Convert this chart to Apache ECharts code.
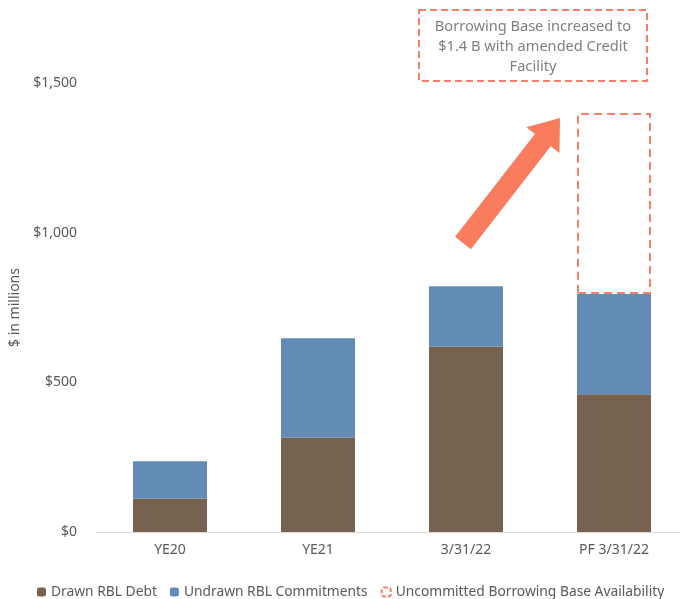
<!DOCTYPE html>
<html>
<head>
<meta charset="utf-8">
<script src="https://cdn.jsdelivr.net/npm/echarts@6/dist/echarts.min.js"></script>
<style>
  html, body { margin: 0; padding: 0; background: #fff; }
  #chart { width: 680px; height: 599px; }
</style>
</head>
<body>
<div id="chart"></div>
<script>
// data
const categories = ["YE20", "YE21", "3/31/22", "PF 3/31/22"]
const drawnDebt = [112, 316, 620, 460]
const undrawnCommitments = [124, 331, 201, 335]
const uncommittedBase = ["-", "-", "-", 605]
const yTicks = [0, 500, 1000, 1500]

const brown = "#77614f"
const blue = "#628cb6"
const coral = "#fa7c5f"
const dashColor = "#f4806a"
const textGrey = "#595959"
const font = "Noto Sans"

const chart = echarts.init(document.getElementById("chart"))

// arrow shape (annotation only)
const tail = [463, 243]
const tip = [560, 118]
const dx = tip[0] - tail[0], dy = tip[1] - tail[1]
const len = Math.sqrt(dx * dx + dy * dy)
const ux = dx / len, uy = dy / len
const nx = -uy, ny = ux
const headLen = 28, headHalf = 21, shaftHalf = 10
const base = [tip[0] - headLen * ux, tip[1] - headLen * uy]
const arrowPoints = [
  [tail[0] - shaftHalf * nx, tail[1] - shaftHalf * ny],
  [base[0] - shaftHalf * nx, base[1] - shaftHalf * ny],
  [base[0] - headHalf * nx, base[1] - headHalf * ny],
  tip,
  [base[0] + headHalf * nx, base[1] + headHalf * ny],
  [base[0] + shaftHalf * nx, base[1] + shaftHalf * ny],
  [tail[0] + shaftHalf * nx, tail[1] + shaftHalf * ny]
]

const option = {
  animation: false,
  backgroundColor: "#fff",
  textStyle: { fontFamily: font },
  grid: { left: 96, width: 592, top: 83, bottom: 67, containLabel: false, outerBoundsMode: "none" },
  legend: {
    left: 32,
    top: 580,
    itemWidth: 9,
    itemHeight: 9,
    itemGap: 13,
    textStyle: { color: textGrey, fontSize: 13.8, fontFamily: font },
    data: [
      { name: "Drawn RBL Debt" },
      { name: "Undrawn RBL Commitments" },
      {
        name: "Uncommitted Borrowing Base Availability",
        itemStyle: { color: "transparent", borderColor: dashColor, borderWidth: 2, borderType: [4, 2] }
      }
    ]
  },
  xAxis: {
    type: "category",
    data: categories,
    axisLine: { lineStyle: { color: "#d9d9d9", width: 1 } },
    axisTick: { show: false },
    axisLabel: { color: textGrey, fontSize: 14, margin: 11, fontFamily: font }
  },
  yAxis: {
    type: "value",
    min: 0,
    max: 1500,
    interval: 500,
    name: "$ in millions",
    nameLocation: "middle",
    nameGap: 70,
    nameTextStyle: { color: textGrey, fontSize: 14, fontFamily: font },
    splitLine: { show: false },
    axisLine: { show: false },
    axisTick: { show: false },
    axisLabel: {
      color: textGrey,
      fontSize: 14,
      margin: 19,
      fontFamily: font,
      formatter: (v) => yTicks.includes(v) ? "$" + v.toLocaleString("en-US") : ""
    }
  },
  series: [
    {
      name: "Drawn RBL Debt",
      type: "bar",
      stack: "total",
      barWidth: 74,
      data: drawnDebt,
      itemStyle: { color: brown }
    },
    {
      name: "Undrawn RBL Commitments",
      type: "bar",
      stack: "total",
      barWidth: 74,
      data: undrawnCommitments,
      itemStyle: { color: blue }
    },
    {
      name: "Uncommitted Borrowing Base Availability",
      type: "bar",
      stack: "total",
      barWidth: 74,
      data: uncommittedBase,
      itemStyle: { color: "transparent", borderColor: dashColor, borderWidth: 2, borderType: [8, 5] }
    }
  ],
  graphic: [
    {
      type: "polygon",
      shape: { points: arrowPoints },
      style: { fill: coral }
    },
    {
      type: "rect",
      shape: { x: 419, y: 10, width: 228, height: 71 },
      style: { fill: "#fff", stroke: dashColor, lineWidth: 2, lineDash: [7, 4] }
    },
    {
      type: "text",
      x: 533,
      y: 47,
      style: {
        text: "Borrowing Base increased to\n$1.4 B with amended Credit\nFacility",
        fill: "#7f7f7f",
        font: "14.6px " + font,
        align: "center",
        verticalAlign: "middle",
        lineHeight: 20
      }
    }
  ]
}

chart.setOption(option)
</script>
</body>
</html>
